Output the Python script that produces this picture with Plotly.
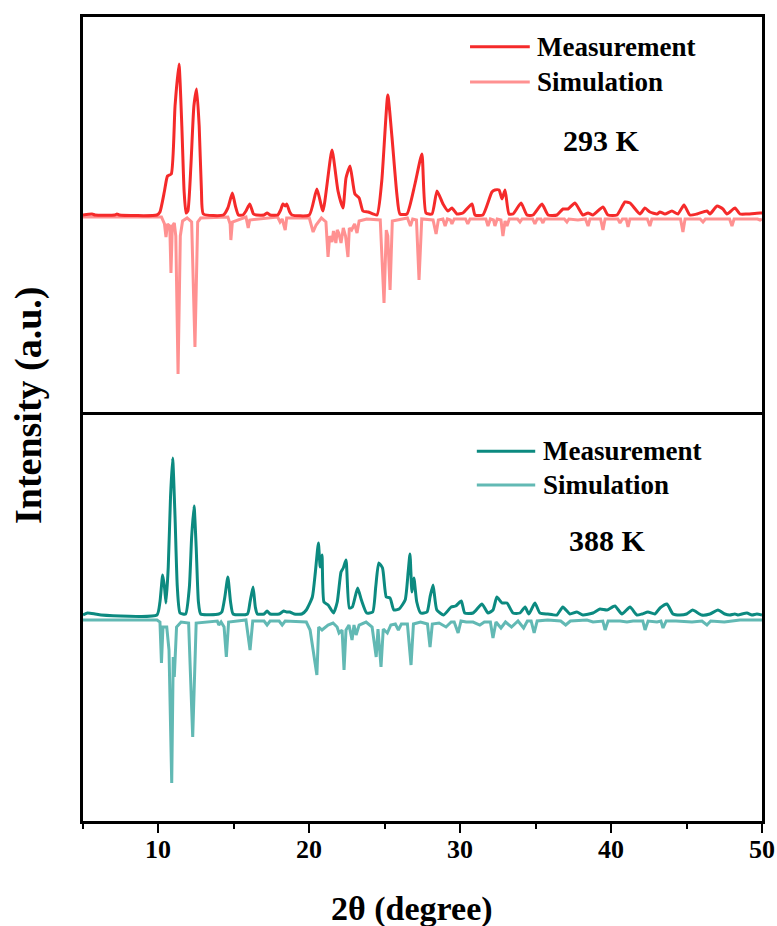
import plotly.graph_objects as go

# ---- 293 K : measured pattern (2theta in degrees, intensity in a.u.) ----
meas293_x = [5.0, 5.6, 5.8, 7.1, 7.25, 7.4, 9.9, 10.1, 10.4, 10.6, 10.85, 11.1, 11.36, 11.55, 11.7, 11.83,
             11.95, 12.15, 12.35, 12.53, 12.7, 12.85, 12.98, 14.3, 14.6, 14.9, 15.1, 15.3, 15.6, 15.8,
             16.05, 16.3, 16.5, 17.0, 17.2, 17.4, 17.9, 18.1, 18.25, 18.4, 18.5, 18.7, 18.85, 20.0,
             20.5, 20.9, 21.5, 21.9, 22.23, 22.43, 22.7, 23.02, 23.3, 23.55, 23.9, 24.48, 24.8, 25.2,
             25.47, 25.8, 26.0, 26.47, 27.0, 27.46, 27.73, 28.13, 28.46, 28.86, 29.19, 29.45, 29.78,
             30.18, 30.78, 30.98, 31.5, 32.1, 32.3, 32.57, 32.77, 32.97, 33.23, 33.5, 34.03, 34.42,
             34.82, 35.42, 35.82, 36.41, 36.81, 37.14, 37.6, 38.13, 38.47, 38.8, 39.46, 39.79, 40.39,
             40.92, 41.25, 41.91, 42.24, 42.57, 43.04, 43.24, 43.57, 44.03, 44.43, 44.83, 45.22, 45.69,
             46.35, 46.55, 47.02, 47.41, 47.68, 48.21, 48.54, 49.0, 49.87, 50.0]
meas293_y = [1, 2, 1, 1, 2, 1, 1, 4, 25, 40, 42, 110, 152, 90, 25, 3,
             5, 50, 110, 127, 90, 25, 2, 1, 8, 23, 10, 1, 1, 5,
             12, 2, 1, 1, 3, 1, 1, 6, 12, 10, 12, 4, 1, 1,
             27, 5, 66, 25, 8, 38, 50, 22, 18, 5, 4, 1, 35, 121,
             80, 22, 2, 2, 32, 62, 3, 2, 25, 12, 5, 8, 2,
             3, 12, 1, 1, 24, 26, 26, 17, 26, 2, 2, 13, 1,
             1, 12, 1, 1, 7, 7, 13, 1, 3, 1, 9, 1, 1,
             14, 13, 2, 8, 4, 2, 4, 2, 5, 2, 11, 1, 2,
             5, 2, 10, 7, 2, 8, 2, 2, 3, 3]

# ---- 293 K : simulated pattern (plotted downward) ----
sim293_x = [5.0, 10.2, 10.4, 10.5, 10.6, 10.75, 10.83, 10.92, 11.05, 11.15, 11.3, 11.45, 11.6, 11.9, 12.2,
            12.42, 12.6, 12.8, 14.6, 14.75, 14.8, 14.9, 15.8, 15.95, 16.05, 17.9, 18.06, 18.2, 18.4,
            18.5, 20.0, 20.25, 20.45, 20.8, 21.1, 21.24, 21.35, 21.5, 21.6, 21.76, 21.85, 21.95, 22.1,
            22.25, 22.4, 22.56, 22.65, 22.8, 23.0, 23.16, 23.3, 23.8, 24.7, 24.95, 25.1, 25.2, 25.35,
            25.5, 26.5, 26.7, 26.85, 27.1, 27.27, 27.45, 28.2, 28.4, 28.55, 28.85, 29.0, 29.15, 29.35,
            29.45, 29.6, 30.35, 30.5, 30.65, 31.7, 31.84, 32.0, 32.2, 32.3, 32.45, 32.7, 32.83, 32.97,
            33.1, 33.25, 33.8, 33.96, 34.1, 34.8, 34.95, 35.1, 35.35, 35.48, 35.6, 36.9, 37.07, 37.2,
            37.8, 38.3, 38.47, 38.6, 39.3, 39.46, 39.6, 40.45, 40.59, 40.75, 41.0, 41.12, 41.25, 42.4,
            42.57, 42.7, 44.6, 44.76, 44.9, 45.9, 46.09, 46.25, 47.85, 48.01, 48.15, 49.7, 49.87, 50.0]
sim293_y = [-1, -1, -8, -21, -8, -10, -57, -10, -7, -20, -158, -20, -5, -2, -6,
            -131, -6, -2, -1, -8, -24, -6, -1, -12, -4, -1, -6, -3, -14,
            -2, -2, -16, -9, -2, -6, -41, -20, -26, -15, -27, -14, -17, -27,
            -12, -20, -41, -12, -14, -8, -17, -5, -3, -4, -87, -14, -20, -74,
            -5, -2, -10, -3, -4, -64, -3, -4, -18, -4, -3, -10, -3, -4,
            -8, -3, -3, -8, -3, -3, -10, -3, -4, -10, -3, -4, -20, -5,
            -10, -3, -3, -6, -3, -3, -8, -3, -3, -7, -3, -3, -6, -3,
            -4, -3, -10, -3, -3, -14, -3, -3, -7, -3, -3, -11, -3, -3,
            -10, -3, -3, -16, -3, -3, -6, -3, -3, -10, -3, -3, -4, -3]

# ---- 388 K : measured pattern ----
meas388_x = [5.0, 5.3, 5.8, 6.2, 9.9, 10.1, 10.28, 10.4, 10.5, 10.65, 10.8, 10.94, 11.1, 11.25, 11.43,
             11.8, 12.05, 12.2, 12.36, 12.5, 12.65, 12.8, 14.0, 14.2, 14.4, 14.6, 14.78, 14.95, 15.9,
             16.07, 16.27, 16.42, 16.55, 17.0, 17.2, 17.4, 18.0, 18.3, 18.5, 18.7, 19.0, 19.5, 19.8,
             20.2, 20.4, 20.6, 20.72, 20.84, 20.97, 21.25, 21.6, 21.85, 22.1, 22.25, 22.43, 22.65,
             22.85, 23.2, 23.45, 23.8, 24.2, 24.4, 24.6, 24.85, 25.1, 25.35, 25.6, 25.95, 26.35, 26.55,
             26.67, 26.8, 26.93, 27.12, 27.38, 27.8, 28.0, 28.2, 28.45, 28.9, 29.4, 29.7, 30.07, 30.3,
             30.85, 31.44, 31.84, 32.17, 32.43, 32.77, 33.1, 33.5, 33.96, 34.3, 34.55, 34.95, 35.28,
             35.8, 36.4, 36.8, 37.27, 37.73, 38.13, 38.8, 39.26, 39.73, 40.25, 40.72, 41.25, 41.71,
             42.05, 42.44, 42.9, 43.24, 43.7, 44.1, 44.56, 45.0, 45.4, 46.0, 46.55, 47.08, 47.54, 47.87,
             48.2, 48.4, 49.0, 49.33, 49.66, 50.0]
meas388_y = [2, 4, 3, 2, 2, 15, 42, 30, 14, 50, 120, 159, 100, 30, 4,
             3, 30, 80, 111, 70, 15, 3, 3, 5, 20, 40, 15, 3, 3,
             15, 30, 10, 3, 3, 6, 3, 3, 6, 5, 5, 3, 3, 7,
             20, 45, 74, 50, 62, 15, 12, 4, 15, 45, 49, 57, 9,
             10, 29, 17, 4, 5, 30, 54, 49, 20, 19, 7, 8, 17, 45,
             63, 25, 39, 15, 4, 5, 20, 32, 7, 2, 10, 11, 16, 4,
             4, 13, 4, 7, 20, 14, 14, 4, 4, 10, 3, 14, 4,
             3, 2, 10, 3, 5, 2, 4, 8, 7, 11, 3, 10, 2,
             3, 5, 3, 9, 13, 3, 2, 3, 7, 2, 3, 7, 3, 2,
             3, 2, 4, 2, 3, 2]

# ---- 388 K : simulated pattern (plotted downward) ----
sim388_x = [5.0, 9.9, 10.1, 10.2, 10.3, 10.55, 10.7, 10.88, 10.98, 11.05, 11.2, 11.5, 12.0, 12.27, 12.5,
            13.9, 14.0, 14.15, 14.35, 14.5, 14.65, 15.8, 16.07, 16.25, 17.0, 17.2, 17.4, 18.0, 18.2,
            18.4, 19.8, 20.05, 20.5, 20.62, 20.84, 21.04, 21.24, 21.57, 21.84, 21.97, 22.17, 22.3,
            22.43, 22.63, 22.83, 22.96, 23.1, 23.3, 23.76, 24.16, 24.43, 24.55, 24.75, 24.9, 25.17,
            25.4, 25.7, 25.9, 26.1, 26.5, 26.74, 26.9, 27.37, 27.83, 28.0, 28.15, 28.6, 29.06, 29.4,
            29.6, 29.86, 30.05, 30.4, 30.85, 31.3, 31.6, 32.0, 32.17, 32.37, 32.7, 33.0, 33.4, 33.83,
            34.2, 34.45, 34.7, 34.9, 35.1, 35.8, 36.66, 36.99, 37.3, 38.4, 38.8, 39.45, 39.6, 39.8,
            40.59, 41.05, 41.45, 42.1, 42.25, 42.45, 43.04, 43.3, 43.44, 43.65, 44.3, 45.36, 46.02,
            46.35, 46.6, 47.5, 48.54, 49.87, 50.0]
sim388_y = [-3, -3, -5, -46, -10, -10, -33, -166, -40, -60, -10, -5, -6, -120, -6,
            -4, -8, -5, -10, -40, -5, -3, -33, -4, -4, -8, -4, -4, -8,
            -4, -5, -13, -58, -10, -13, -10, -8, -6, -10, -16, -13, -53,
            -13, -8, -23, -8, -18, -8, -5, -10, -40, -12, -50, -12, -16,
            -8, -7, -13, -7, -7, -48, -7, -5, -7, -30, -7, -6, -10, -5,
            -5, -16, -4, -5, -5, -8, -5, -5, -21, -5, -11, -5, -10, -4,
            -11, -4, -4, -16, -4, -3, -4, -8, -4, -3, -5, -4, -13, -4,
            -4, -5, -4, -4, -13, -4, -5, -4, -11, -4, -4, -5, -4,
            -8, -4, -5, -3, -3, -3]

x_ticks = [10, 20, 30, 40, 50]
x_minor = [5, 15, 25, 35, 45]

RED = "#F52A2A"
PINK = "#FF9191"
TEAL = "#0C8A80"
LTEAL = "#62B9B4"
SERIF = "Liberation Serif"
LW = 3

fig = go.Figure()

# upper panel (293 K)
fig.add_trace(go.Scatter(x=sim293_x, y=sim293_y, mode="lines", name="Simulation",
                         line=dict(color=PINK, width=LW), xaxis="x", yaxis="y", showlegend=False))
fig.add_trace(go.Scatter(x=meas293_x, y=meas293_y, mode="lines", name="Measurement",
                         line=dict(color=RED, width=LW, shape="spline", smoothing=0.5),
                         xaxis="x", yaxis="y", showlegend=False))
# lower panel (388 K)
fig.add_trace(go.Scatter(x=sim388_x, y=sim388_y, mode="lines", name="Simulation",
                         line=dict(color=LTEAL, width=LW), xaxis="x2", yaxis="y2", showlegend=False))
fig.add_trace(go.Scatter(x=meas388_x, y=meas388_y, mode="lines", name="Measurement",
                         line=dict(color=TEAL, width=LW, shape="spline", smoothing=0.5),
                         xaxis="x2", yaxis="y2", showlegend=False))

split = 0.5087
frame = dict(showline=True, linecolor="black", linewidth=2.5,
             showgrid=False, zeroline=False, automargin=False)

fig.update_layout(
    width=777, height=926,
    margin=dict(l=83, r=15, t=17, b=105, autoexpand=False),
    paper_bgcolor="white", plot_bgcolor="white",
    font=dict(family=SERIF, color="black"),
    xaxis=dict(range=[5, 50], anchor="y", matches="x2", showticklabels=False, ticks="",
               mirror=True, **frame),
    yaxis=dict(domain=[split, 1], range=[-196, 199], anchor="x", showticklabels=False, ticks="",
               mirror=True, **frame),
    xaxis2=dict(range=[5, 50], anchor="y2", tickvals=x_ticks, ticks="outside", ticklen=9,
                tickwidth=2, tickcolor="black", showticklabels=False, mirror=False,
                minor=dict(tickvals=x_minor, ticks="outside", ticklen=5, tickwidth=2,
                           tickcolor="black"),
                **frame),
    yaxis2=dict(domain=[0, split], range=[-204, 205], anchor="x2", showticklabels=False, ticks="",
                mirror=True, **frame),
)

annotations = []
shapes = []

# tick labels of the shared 2theta axis
for t in x_ticks:
    annotations.append(dict(xref="x2", yref="paper", x=t, y=-0.035, text=str(t), showarrow=False,
                            xanchor="center", yanchor="middle",
                            font=dict(family=SERIF, size=26, color="black", weight="bold")))


def legend_block(x_line0, x_line1, x_text, y_rows, colors):
    for y, col, label in zip(y_rows, colors, ["Measurement", "Simulation"]):
        shapes.append(dict(type="line", xref="paper", yref="paper", x0=x_line0, x1=x_line1,
                           y0=y, y1=y, line=dict(color=col, width=LW)))
        annotations.append(dict(xref="paper", yref="paper", x=x_text, y=y, text=label,
                                showarrow=False, xanchor="left", yanchor="middle",
                                font=dict(family=SERIF, size=27, color="black", weight="bold")))


legend_block(0.570, 0.658, 0.666, [0.963, 0.919], [RED, PINK])
legend_block(0.580, 0.666, 0.674, [0.460, 0.418], [TEAL, LTEAL])

annotations.append(dict(xref="paper", yref="paper", x=0.763, y=0.847, text="293 K", showarrow=False,
                        xanchor="center", yanchor="middle",
                        font=dict(family=SERIF, size=30, color="black", weight="bold")))
annotations.append(dict(xref="paper", yref="paper", x=0.772, y=0.3495, text="388 K", showarrow=False,
                        xanchor="center", yanchor="middle",
                        font=dict(family=SERIF, size=30, color="black", weight="bold")))
annotations.append(dict(xref="paper", yref="paper", x=0.4845, y=-0.1095, text="2θ (degree)",
                        showarrow=False, xanchor="center", yanchor="middle",
                        font=dict(family=SERIF, size=34, color="black", weight="bold")))
annotations.append(dict(xref="paper", yref="paper", x=-0.080, y=0.517, text="Intensity (a.u.)",
                        showarrow=False, xanchor="center", yanchor="middle", textangle=-90,
                        font=dict(family=SERIF, size=38, color="black", weight="bold")))

fig.update_layout(annotations=annotations, shapes=shapes)
fig.write_html("out.html")
